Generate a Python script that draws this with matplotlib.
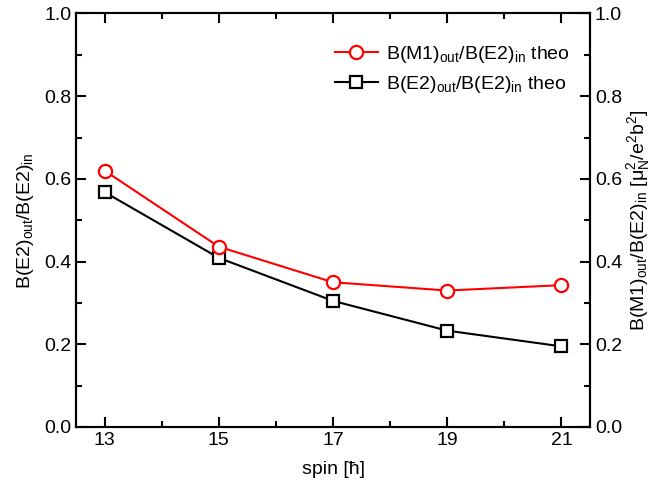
import numpy as np
import matplotlib.pyplot as plt
from matplotlib.ticker import MultipleLocator

plt.rcParams['font.family'] = ['Liberation Sans', 'DejaVu Sans']
plt.rcParams['mathtext.default'] = 'regular'
plt.rcParams['font.size'] = 14

spin = [13, 15, 17, 19, 21]
m1_ratio = [0.620, 0.436, 0.350, 0.330, 0.343]  # B(M1)out/B(E2)in theo
e2_ratio = [0.568, 0.409, 0.305, 0.233, 0.195]  # B(E2)out/B(E2)in theo

fig = plt.figure(figsize=(6.58, 4.99), dpi=100)
ax = fig.add_axes([0.1155, 0.1443, 0.7812, 0.8287])
ax2 = ax.twinx()

l2, = ax.plot(spin, e2_ratio, '-s', color='black', lw=1.5, ms=8,
              mfc='white', mec='black', mew=1.6,
              label=r'B(E2)$_{out}$/B(E2)$_{in}$ theo')
l1, = ax2.plot(spin, m1_ratio, '-o', color='red', lw=1.5, ms=9.5,
               mfc='white', mec='red', mew=1.6,
               label=r'B(M1)$_{out}$/B(E2)$_{in}$ theo')

ax.set_xlim(12.5, 21.5)
ax.set_xticks(spin)
ax.xaxis.set_minor_locator(MultipleLocator(1))
for a in (ax, ax2):
    a.set_ylim(0, 1.0)
    a.yaxis.set_major_locator(MultipleLocator(0.2))
    a.yaxis.set_minor_locator(MultipleLocator(0.1))
    a.yaxis.set_major_formatter(plt.FormatStrFormatter('%.1f'))
    for s in a.spines.values():
        s.set_linewidth(1.5)

ax.tick_params(which='both', direction='in', top=True, right=False, width=1.5)
ax.tick_params(which='major', length=7)
ax.tick_params(which='minor', length=4)
ax2.tick_params(which='both', direction='in', width=1.5)
ax2.tick_params(which='major', length=7)
ax2.tick_params(which='minor', length=4)

ax.set_xlabel('spin [ħ]', labelpad=9)
ax.set_ylabel(r'B(E2)$_{out}$/B(E2)$_{in}$', labelpad=6)
ax2.set_ylabel(r'B(M1)$_{out}$/B(E2)$_{in}$ [$\mu_N^2$/e$^2$b$^2$]', labelpad=2)

ax2.legend(handles=[l1, l2], loc='upper right', frameon=False, fontsize=14,
           handlelength=2.2, handletextpad=0.4, labelspacing=0.45,
           bbox_to_anchor=(0.975, 0.945), borderaxespad=0)

fig.savefig('out.png', dpi=100)
